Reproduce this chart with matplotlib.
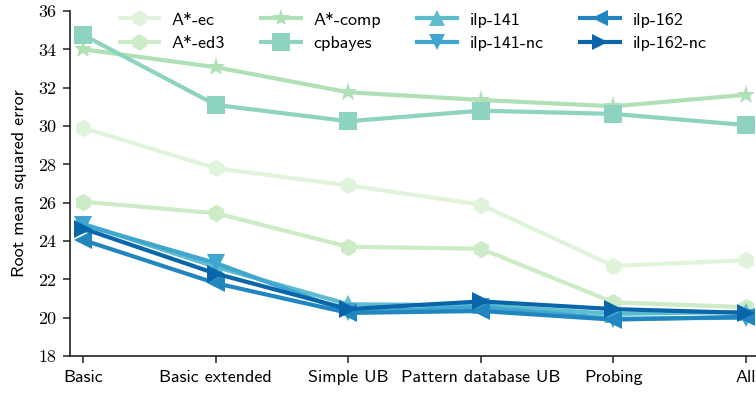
import matplotlib.pyplot as plt

# Ablation results: root mean squared error per configuration
configs = ['Basic', 'Basic extended', 'Simple UB', 'Pattern database UB', 'Probing', 'All']

astar_ec = [29.9, 27.8, 26.9, 25.9, 22.7, 23.0]
astar_ed3 = [26.05, 25.45, 23.7, 23.6, 20.8, 20.55]
astar_comp = [34.0, 33.07, 31.76, 31.36, 31.03, 31.63]
cpbayes = [34.75, 31.1, 30.25, 30.8, 30.63, 30.05]
ilp_141 = [24.9, 22.65, 20.7, 20.65, 20.2, 20.3]
ilp_141_nc = [24.85, 22.85, 20.3, 20.55, 19.95, 20.0]
ilp_162 = [24.05, 21.8, 20.25, 20.35, 19.9, 20.05]
ilp_162_nc = [24.65, 22.3, 20.45, 20.85, 20.45, 20.25]

series = [
    ('A*-ec', astar_ec, 'h', '#e0f3db'),
    ('A*-ed3', astar_ed3, 'h', '#cdebc6'),
    ('A*-comp', astar_comp, '*', '#b0e0b6'),
    ('cpbayes', cpbayes, 's', '#8dd3c0'),
    ('ilp-141', ilp_141, '^', '#5dbdcf'),
    ('ilp-141-nc', ilp_141_nc, 'v', '#3fa6cf'),
    ('ilp-162', ilp_162, '<', '#2186c0'),
    ('ilp-162-nc', ilp_162_nc, '>', '#0a66aa'),
]

sans = ['cmss10', 'DejaVu Sans']
serif = ['cmr10', 'DejaVu Serif']
fs = 13

fig = plt.figure(figsize=(7.56, 3.93), dpi=100)
ax = fig.add_axes([0.0926, 0.094, 0.9074, 0.878])

xs = list(range(len(configs)))
for name, vals, mk, col in series:
    ms = 13 if mk == 's' else (14 if mk == '*' else 12.5)
    ax.plot(xs, vals, marker=mk, color=col, linewidth=3, markersize=ms,
            markeredgewidth=0, label=name)

ax.set_xlim(-0.1, 5.075)
ax.set_ylim(18, 36)
ax.set_yticks(range(18, 37, 2))
ax.set_xticks(xs)
ax.set_xticklabels(configs, fontfamily=sans, fontsize=fs)
for lbl in ax.get_yticklabels():
    lbl.set_fontfamily(serif)
    lbl.set_fontsize(fs)
ax.set_ylabel('Root mean squared error', fontfamily=sans, fontsize=fs, labelpad=8)

for side in ['top', 'right']:
    ax.spines[side].set_visible(False)
for side in ['left', 'bottom']:
    ax.spines[side].set_linewidth(1.2)
    ax.spines[side].set_color('#222222')
ax.tick_params(axis='both', direction='out', length=5, width=1.1, color='#222222', pad=5)

leg = ax.legend(loc='upper center', bbox_to_anchor=(0.5, 1.045), ncol=4, frameon=False,
                prop={'family': sans, 'size': fs}, handlelength=2.2, handletextpad=0.7,
                columnspacing=2.0, labelspacing=0.45, markerscale=0.95)

plt.savefig('out.png', dpi=100)
plt.close()
